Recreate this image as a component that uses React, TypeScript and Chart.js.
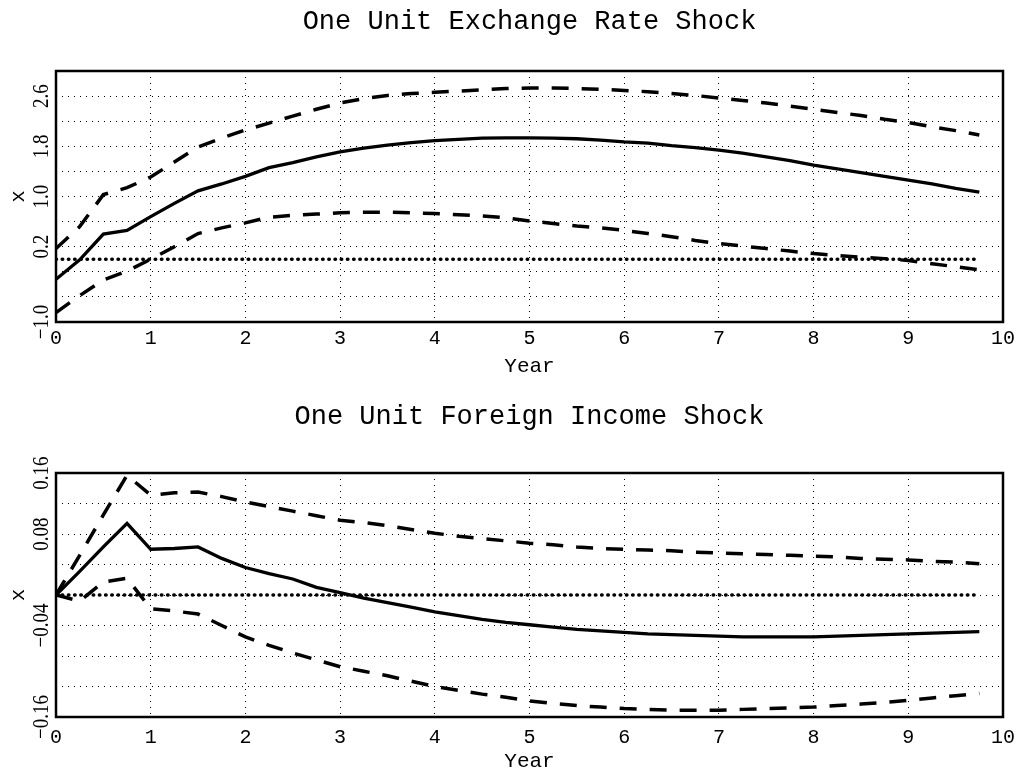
import React, { useEffect, useRef } from "react";
import { Chart, registerables } from "chart.js";

Chart.register(...registerables);

// ---------- data ----------
const YEARS = [
  0, 0.25, 0.5, 0.75, 1, 1.25, 1.5, 1.75, 2, 2.25, 2.5, 2.75, 3, 3.25, 3.5, 3.75,
  4, 4.25, 4.5, 4.75, 5, 5.25, 5.5, 5.75, 6, 6.25, 6.5, 6.75, 7, 7.25, 7.5, 7.75,
  8, 8.25, 8.5, 8.75, 9, 9.25, 9.5, 9.75,
];

const EXCH_IRF = [
  -0.32, -0.01, 0.40, 0.46, 0.68, 0.89, 1.09, 1.20, 1.32, 1.46, 1.54, 1.63, 1.71, 1.77, 1.82, 1.86,
  1.89, 1.91, 1.93, 1.935, 1.935, 1.93, 1.92, 1.90, 1.87, 1.85, 1.81, 1.78, 1.74, 1.69, 1.63, 1.57,
  1.50, 1.44, 1.38, 1.32, 1.26, 1.20, 1.13, 1.07,
];
const EXCH_UPPER = [
  0.17, 0.52, 1.03, 1.14, 1.31, 1.55, 1.79, 1.93, 2.06, 2.17, 2.28, 2.39, 2.49, 2.56, 2.61, 2.64,
  2.66, 2.68, 2.70, 2.72, 2.73, 2.73, 2.72, 2.71, 2.69, 2.67, 2.64, 2.61, 2.57, 2.53, 2.49, 2.44,
  2.39, 2.34, 2.29, 2.23, 2.18, 2.11, 2.05, 1.98,
];
const EXCH_LOWER = [
  -0.85, -0.58, -0.33, -0.19, 0.0, 0.2, 0.41, 0.50, 0.58, 0.67, 0.70, 0.72, 0.74, 0.75, 0.75, 0.74,
  0.73, 0.71, 0.69, 0.66, 0.61, 0.57, 0.53, 0.50, 0.46, 0.41, 0.36, 0.30, 0.25, 0.21, 0.17, 0.13,
  0.09, 0.06, 0.03, 0.01, -0.02, -0.07, -0.12, -0.17,
];

const INC_IRF = [
  0, 0.031, 0.063, 0.094, 0.060, 0.061, 0.063, 0.048, 0.036, 0.028, 0.021, 0.010, 0.003, -0.004, -0.010, -0.016,
  -0.022, -0.027, -0.032, -0.036, -0.039, -0.042, -0.045, -0.047, -0.049, -0.051, -0.052, -0.053, -0.054, -0.055, -0.055, -0.055,
  -0.055, -0.054, -0.053, -0.052, -0.051, -0.050, -0.049, -0.048,
];
const INC_UPPER = [
  0, 0.052, 0.105, 0.157, 0.131, 0.134, 0.135, 0.129, 0.122, 0.116, 0.110, 0.104, 0.098, 0.095, 0.091, 0.086,
  0.081, 0.077, 0.074, 0.071, 0.068, 0.066, 0.063, 0.061, 0.060, 0.059, 0.058, 0.056, 0.055, 0.054, 0.053, 0.052,
  0.051, 0.050, 0.048, 0.047, 0.046, 0.044, 0.043, 0.041,
];
const INC_LOWER = [
  0, -0.008, 0.017, 0.022, -0.018, -0.021, -0.025, -0.040, -0.055, -0.066, -0.076, -0.085, -0.094, -0.100, -0.106, -0.113,
  -0.120, -0.125, -0.130, -0.134, -0.139, -0.142, -0.145, -0.147, -0.149, -0.150, -0.151, -0.151, -0.151, -0.150, -0.149, -0.148,
  -0.147, -0.145, -0.143, -0.141, -0.138, -0.135, -0.132, -0.129,
];

const ZERO_X = [0, 9.75];
const ZERO_Y = [0, 0];

const X_TICKS = [0, 1, 2, 3, 4, 5, 6, 7, 8, 9, 10];

const EXCH_Y_GRID = [-1.0, -0.6, -0.2, 0.2, 0.6, 1.0, 1.4, 1.8, 2.2, 2.6, 3.0];
const EXCH_Y_LABELS = [-1.0, 0.2, 1.0, 1.8, 2.6];

const INC_Y_GRID = [-0.16, -0.12, -0.08, -0.04, 0, 0.04, 0.08, 0.12, 0.16];
const INC_Y_LABELS = [-0.16, -0.04, 0.08, 0.16];

// ---------- helpers ----------
const MONO = '"Liberation Mono", "DejaVu Sans Mono", monospace';
const SERIF = '"Liberation Serif", "DejaVu Serif", serif';

function fmt(v: number, d: number) {
  return (v < 0 ? "\u2212" : "") + Math.abs(v).toFixed(d);
}

function pts(xs: number[], ys: number[]) {
  return xs.map((x, i) => ({ x, y: ys[i] }));
}

type PanelProps = {
  title: string;
  irf: number[];
  upper: number[];
  lower: number[];
  yMin: number;
  yMax: number;
  yGrid: number[];
  yLabels: number[];
  decimals: number;
  titleY: number;
  plotTop: number;
  xAxisHeight: number;
  xTickPad: number;
  yearPadBottom: number;
};

function Panel(p: PanelProps) {
  const ref = useRef<HTMLCanvasElement | null>(null);

  useEffect(() => {
    if (!ref.current) return;

    const framePlugin = {
      id: "frameAndLabels",
      afterDraw(chart: any) {
        const { ctx, chartArea: a } = chart;
        const y = chart.scales.y;
        ctx.save();
        // frame
        ctx.strokeStyle = "#000";
        ctx.lineWidth = 2.5;
        ctx.strokeRect(a.left, a.top, a.right - a.left, a.bottom - a.top);
        // panel title, centred over the plot area
        ctx.fillStyle = "#000";
        ctx.font = `27px ${MONO}`;
        ctx.textAlign = "center";
        ctx.textBaseline = "middle";
        ctx.fillText(p.title, (a.left + a.right) / 2, p.titleY);
        // rotated y tick labels
        ctx.font = `19px ${SERIF}`;
        for (const v of p.yLabels) {
          const py = y.getPixelForValue(v);
          ctx.save();
          ctx.translate(a.left - 14, py);
          ctx.rotate(-Math.PI / 2);
          ctx.scale(1, 1.2);
          ctx.fillText(fmt(v, p.decimals), 0, 0);
          ctx.restore();
        }
        ctx.restore();
      },
    };

    const dashed = {
      borderColor: "#000",
      borderWidth: 3.5,
      borderDash: [17, 13],
      pointRadius: 0,
      tension: 0,
      fill: false,
    };

    const chart = new Chart(ref.current, {
      type: "line",
      data: {
        datasets: [
          {
            label: "response",
            data: pts(YEARS, p.irf),
            borderColor: "#000",
            borderWidth: 3.3,
            pointRadius: 0,
            tension: 0,
            fill: false,
          },
          { label: "upper", data: pts(YEARS, p.upper), ...dashed },
          { label: "lower", data: pts(YEARS, p.lower), ...dashed },
          {
            label: "zero",
            data: pts(ZERO_X, ZERO_Y),
            borderColor: "#000",
            borderWidth: 3.5,
            borderDash: [0.5, 5.7],
            borderCapStyle: "round",
            pointRadius: 0,
            fill: false,
          },
        ],
      },
      options: {
        responsive: false,
        animation: false,
        layout: { padding: { left: 0, right: 13, top: p.plotTop, bottom: 0 } },
        plugins: {
          legend: { display: false },
          tooltip: { enabled: false },
          title: { display: false },
        },
        scales: {
          x: {
            type: "linear",
            min: 0,
            max: 10,
            afterBuildTicks: (s: any) => {
              s.ticks = X_TICKS.map((v) => ({ value: v }));
            },
            afterFit: (s: any) => {
              s.height = p.xAxisHeight;
              s.paddingLeft = 0;
              s.paddingRight = 0;
            },
            ticks: {
              color: "#000",
              font: { family: MONO, size: 20 },
              padding: p.xTickPad,
              maxRotation: 0,
              autoSkip: false,
            },
            grid: {
              color: "#000",
              lineWidth: 1,
              drawTicks: false,
            },
            border: { display: false, dash: [1, 5] },
            title: {
              display: true,
              text: "Year",
              color: "#000",
              font: { family: MONO, size: 21, lineHeight: 1.2 },
              padding: { top: 0, bottom: p.yearPadBottom },
            },
          },
          y: {
            type: "linear",
            min: p.yMin,
            max: p.yMax,
            afterBuildTicks: (s: any) => {
              s.ticks = p.yGrid.map((v) => ({ value: v }));
            },
            afterFit: (s: any) => {
              s.width = 56;
              s.paddingTop = 0;
              s.paddingBottom = 0;
            },
            ticks: { display: false },
            grid: {
              color: "#000",
              lineWidth: 1,
              drawTicks: false,
            },
            border: { display: false, dash: [1, 5] },
            title: {
              display: true,
              text: "x",
              color: "#000",
              font: { family: MONO, size: 21, lineHeight: 1.2 },
              padding: { top: 6, bottom: 0 },
            },
          },
        },
      },
      plugins: [framePlugin],
    } as any);

    return () => chart.destroy();
  }, []);

  return (
    <canvas
      ref={ref}
      width={1016}
      height={386}
      style={{ display: "block", width: 1016, height: 386 }}
    />
  );
}

export default function App() {
  return (
    <div style={{ position: "absolute", left: 0, top: 0, width: 1016, height: 772, background: "#fff" }}>
      <Panel
        title="One Unit Exchange Rate Shock"
        irf={EXCH_IRF}
        upper={EXCH_UPPER}
        lower={EXCH_LOWER}
        yMin={-1.0}
        yMax={3.0}
        yGrid={EXCH_Y_GRID}
        yLabels={EXCH_Y_LABELS}
        decimals={1}
        titleY={22}
        plotTop={71}
        xAxisHeight={64}
        xTickPad={4.5}
        yearPadBottom={7.4}
      />
      <Panel
        title="One Unit Foreign Income Shock"
        irf={INC_IRF}
        upper={INC_UPPER}
        lower={INC_LOWER}
        yMin={-0.16}
        yMax={0.16}
        yGrid={INC_Y_GRID}
        yLabels={INC_Y_LABELS}
        decimals={2}
        titleY={31}
        plotTop={87}
        xAxisHeight={55}
        xTickPad={8.5}
        yearPadBottom={-2}
      />
    </div>
  );
}
